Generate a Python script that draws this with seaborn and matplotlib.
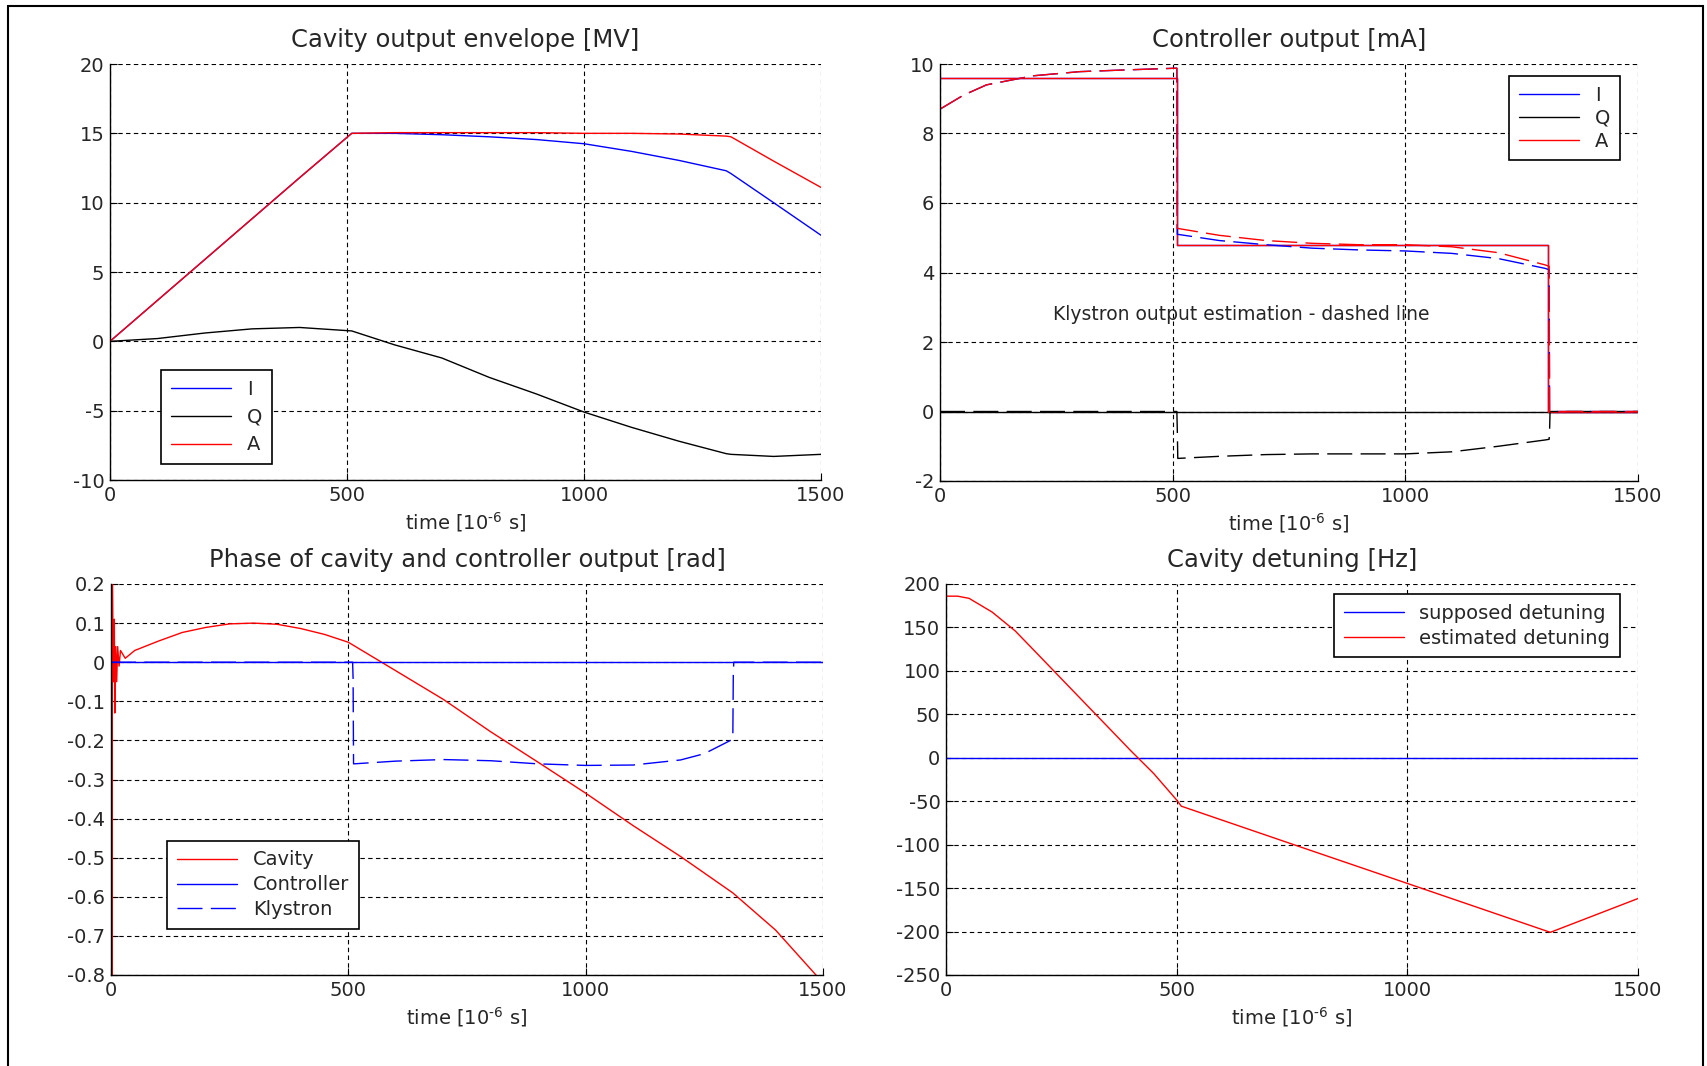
import numpy as np
import pandas as pd
import matplotlib
matplotlib.use("Agg")
import matplotlib.pyplot as plt
import seaborn as sns
from matplotlib.patches import Rectangle

# --- Cavity output envelope [MV] ---
t_env = [0, 100, 200, 300, 400, 510, 600, 700, 800, 900, 1000, 1100, 1200, 1300, 1310, 1400, 1500]
env_I = [0, 2.95, 5.9, 8.85, 11.8, 15.0, 15.0, 14.9, 14.75, 14.55, 14.25, 13.7, 13.05, 12.3, 12.1, 10.0, 7.65]
env_A = [0, 2.95, 5.9, 8.85, 11.8, 15.0, 15.05, 15.05, 15.05, 15.05, 15.0, 15.0, 14.95, 14.8, 14.75, 13.0, 11.1]
env_Q = [0, 0.2, 0.6, 0.9, 1.0, 0.75, -0.25, -1.2, -2.6, -3.8, -5.1, -6.2, -7.2, -8.1, -8.15, -8.3, -8.15]

# --- Controller output [mA] ---
t_ctrl = [0, 509, 509, 1307, 1307, 1500]
ctrl_I = [9.6, 9.6, 4.8, 4.8, 0, 0]
ctrl_Q = [0, 0, 0, 0, 0, 0]
ctrl_A = [9.6, 9.6, 4.8, 4.8, 0, 0]

t_kly = [0, 50, 100, 200, 300, 400, 509, 510, 600, 700, 800, 900, 1000, 1100, 1200, 1300, 1309, 1310, 1500]
kly_A = [8.7, 9.1, 9.4, 9.66, 9.78, 9.83, 9.88, 5.27, 5.07, 4.92, 4.84, 4.8, 4.8, 4.74, 4.57, 4.22, 4.18, 0, 0]
kly_I = [8.7, 9.1, 9.4, 9.66, 9.78, 9.83, 9.88, 5.1, 4.92, 4.8, 4.7, 4.65, 4.62, 4.55, 4.4, 4.12, 4.08, 0, 0]
t_klyq = [0, 509, 510, 511, 600, 700, 800, 900, 1000, 1100, 1200, 1300, 1309, 1310, 1311, 1500]
kly_Q = [0, 0, -0.55, -1.35, -1.29, -1.24, -1.22, -1.22, -1.22, -1.16, -1.0, -0.82, -0.8, -0.55, 0, 0]

# --- Phase of cavity and controller output [rad] ---
t_cav = [0, 1, 2, 3, 5, 7, 8, 10, 12, 14, 17, 20, 30, 50, 100, 150, 200, 250, 300, 350, 400, 450, 500,
         570, 700, 800, 900, 1000, 1100, 1200, 1310, 1400, 1500]
ph_cav = [0, 0.2, -0.8, 0.2, -0.05, 0.11, -0.13, 0.04, -0.05, 0.04, -0.01, 0.03, 0.01, 0.03, 0.054, 0.076,
          0.089, 0.098, 0.1, 0.097, 0.086, 0.071, 0.051, 0.0, -0.095, -0.178, -0.256, -0.335, -0.418,
          -0.497, -0.59, -0.685, -0.82]
t_ph = [0, 1500]
ph_ctrl = [0, 0]
t_phk = [0, 509, 510, 511, 600, 700, 800, 900, 1000, 1100, 1200, 1250, 1310, 1311, 1312, 1500]
ph_kly = [0, 0, -0.04, -0.26, -0.253, -0.249, -0.252, -0.26, -0.264, -0.263, -0.25, -0.234, -0.197, -0.035,
          0, 0]

# --- Cavity detuning [Hz] ---
t_det = [0, 25, 50, 100, 150, 200, 250, 300, 350, 400, 450, 500, 510, 750, 1000, 1310, 1500]
det_est = [186, 186, 183.5, 167.7, 146, 118.6, 91, 63.5, 36, 8.4, -18, -48.6, -55.7, -99.3, -144.6, -200.9, -162]
det_sup = [0] * len(t_det)

sns.set_theme(style="white")
plt.rcParams["font.family"] = ["DejaVu Sans"]
plt.rcParams["axes.unicode_minus"] = False

W, H = 1708, 1066
fig = plt.figure(figsize=(W / 100, H / 100), dpi=100)
fig.patches.append(Rectangle((8 / W, -0.01), (1703 - 8) / W, 1.01 - 6 / H, transform=fig.transFigure,
                             fill=False, edgecolor="black", linewidth=1.5))


def box(l, r, t, b):
    return [l / W, (H - b) / H, (r - l) / W, (b - t) / H]


ax1 = fig.add_axes(box(110, 821, 64, 480))
ax2 = fig.add_axes(box(940, 1638, 64, 481))
ax3 = fig.add_axes(box(111, 823, 584, 975))
ax4 = fig.add_axes(box(946, 1638, 584, 975))

lw = 1.0
dash = (0, (18, 6))

sns.lineplot(x=t_env, y=env_I, color="#0000ff", lw=lw, label="I", ax=ax1, estimator=None, sort=False)
sns.lineplot(x=t_env, y=env_Q, color="black", lw=lw, label="Q", ax=ax1, estimator=None, sort=False)
sns.lineplot(x=t_env, y=env_A, color="#ff0000", lw=lw, label="A", ax=ax1, estimator=None, sort=False)
ax1.set_ylim(-10, 20)
ax1.set_yticks(np.arange(-10, 21, 5))
ax1.set_title("Cavity output envelope [MV]")

sns.lineplot(x=t_ctrl, y=ctrl_I, color="#0000ff", lw=lw, label="I", ax=ax2, estimator=None, sort=False)
sns.lineplot(x=t_ctrl, y=ctrl_Q, color="black", lw=lw, label="Q", ax=ax2, estimator=None, sort=False)
sns.lineplot(x=t_ctrl, y=ctrl_A, color="#ff0000", lw=lw, label="A", ax=ax2, estimator=None, sort=False)
sns.lineplot(x=t_kly, y=kly_I, color="#0000ff", lw=lw, linestyle=dash, ax=ax2, estimator=None, sort=False)
sns.lineplot(x=t_klyq, y=kly_Q, color="black", lw=lw, linestyle=dash, ax=ax2, estimator=None, sort=False)
sns.lineplot(x=t_kly, y=kly_A, color="#ff0000", lw=lw, linestyle=dash, ax=ax2, estimator=None, sort=False)
ax2.set_ylim(-2, 10)
ax2.set_yticks(np.arange(-2, 11, 2))
ax2.set_title("Controller output [mA]")
ax2.text(648, 2.8, "Klystron output estimation - dashed line", ha="center", va="center", fontsize=13.5)

sns.lineplot(x=t_cav, y=ph_cav, color="#ff0000", lw=lw, label="Cavity", ax=ax3, estimator=None, sort=False)
sns.lineplot(x=t_ph, y=ph_ctrl, color="#0000ff", lw=lw, label="Controller", ax=ax3, estimator=None, sort=False)
sns.lineplot(x=t_phk, y=ph_kly, color="#0000ff", lw=lw, linestyle=dash, label="Klystron", ax=ax3,
             estimator=None, sort=False)
ax3.set_ylim(-0.8, 0.2)
ph_ticks = [-0.8, -0.7, -0.6, -0.5, -0.4, -0.3, -0.2, -0.1, 0, 0.1, 0.2]
ax3.set_yticks(ph_ticks)
ax3.set_yticklabels([f"{v:g}" for v in ph_ticks])
ax3.set_title("Phase of cavity and controller output [rad]")

sns.lineplot(x=t_det, y=det_sup, color="#0000ff", lw=lw, label="supposed detuning", ax=ax4, estimator=None, sort=False)
sns.lineplot(x=t_det, y=det_est, color="#ff0000", lw=lw, label="estimated detuning", ax=ax4, estimator=None, sort=False)
ax4.set_ylim(-250, 200)
ax4.set_yticks(np.arange(-250, 201, 50))
ax4.set_title("Cavity detuning [Hz]")

legend_pos = {ax1: ("lower left", (0.072, 0.038), 0.45), ax2: ("upper right", (0.974, 0.971), 0.2),
              ax3: ("lower left", (0.079, 0.118), 0.3), ax4: ("upper right", (0.974, 0.974), 0.3)}

for ax in (ax1, ax2, ax3, ax4):
    ax.set_xlim(0, 1500)
    ax.set_xticks([0, 500, 1000, 1500])
    ax.set_xlabel(r"time [10$^{\text{-}6}$ s]", fontsize=14)
    ax.set_ylabel("")
    ax.set_title(ax.get_title(), fontsize=17.5, pad=12)
    ax.grid(True, color="black", linestyle=(0, (4, 3)), linewidth=0.8)
    ax.set_axisbelow(True)
    for s in ("top", "right"):
        ax.spines[s].set_visible(False)
    for s in ("left", "bottom"):
        ax.spines[s].set_color("black")
        ax.spines[s].set_linewidth(1.0)
    ax.tick_params(direction="in", length=5, width=0.8, color="black", labelsize=14, pad=4,
                   bottom=True, left=True)
    loc, anchor, spacing = legend_pos[ax]
    leg = ax.legend(loc=loc, bbox_to_anchor=anchor, fontsize=14, frameon=True, fancybox=False,
                    edgecolor="black", framealpha=1, handlelength=3.1, borderpad=0.5,
                    labelspacing=spacing, borderaxespad=0)
    leg.get_frame().set_linewidth(1.2)

fig.savefig("out.png", dpi=100)
